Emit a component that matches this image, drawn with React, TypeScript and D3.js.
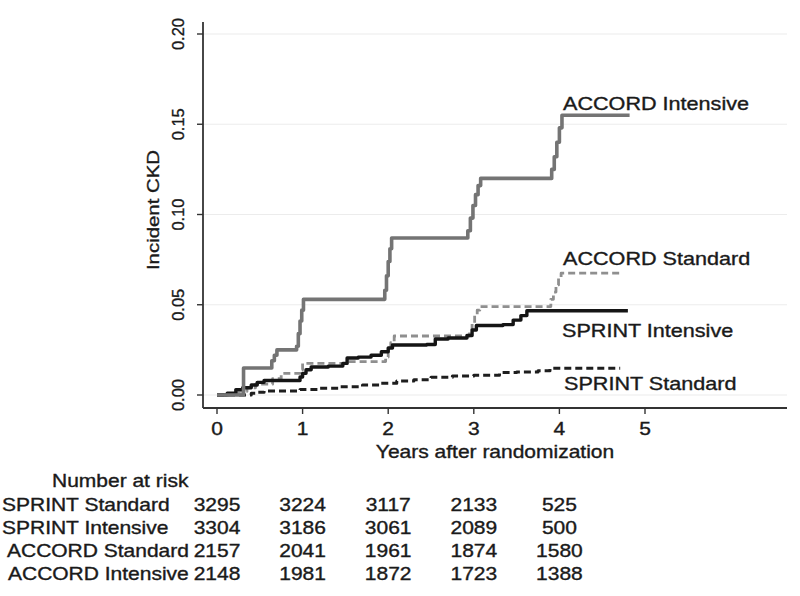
import React from "react";
import * as d3 from "d3";

// ---- data ----
const yTicks = [0, 0.05, 0.1, 0.15, 0.2];
const xTicks = [0, 1, 2, 3, 4, 5];
const riskYears = [0, 1, 2, 3, 4];
const groups = ["SPRINT Standard", "SPRINT Intensive", "ACCORD Standard", "ACCORD Intensive"];
const riskSprintStd = [3295, 3224, 3117, 2133, 525];
const riskSprintInt = [3304, 3186, 3061, 2089, 500];
const riskAccordStd = [2157, 2041, 1961, 1874, 1580];
const riskAccordInt = [2148, 1981, 1872, 1723, 1388];

const accordIntT = [0, 0.31, 0.64, 0.67, 0.7, 0.93, 0.95, 0.97, 0.99, 1.01, 1.96, 1.98, 2.0, 2.02, 2.04, 2.93, 2.96, 2.99, 3.02, 3.05, 3.08, 3.91, 3.94, 3.97, 4.0, 4.03, 4.82];
const accordIntV = [0, 0.015, 0.019, 0.022, 0.025, 0.027, 0.034, 0.041, 0.047, 0.053, 0.058, 0.066, 0.074, 0.081, 0.087, 0.091, 0.098, 0.105, 0.111, 0.116, 0.12, 0.125, 0.132, 0.14, 0.148, 0.155, 0.155];

const accordStdT = [0, 0.25, 0.35, 0.45, 0.65, 0.75, 0.97, 1.0, 1.5, 1.97, 2.0, 2.03, 2.07, 2.95, 2.98, 3.01, 3.04, 3.07, 3.9, 3.93, 3.96, 3.99, 4.02, 4.73];
const accordStdV = [0, 0.002, 0.004, 0.006, 0.009, 0.012, 0.014, 0.0175, 0.0185, 0.021, 0.025, 0.029, 0.0327, 0.036, 0.04, 0.044, 0.047, 0.049, 0.053, 0.057, 0.061, 0.065, 0.0675, 0.0675];

const sprintIntT = [0, 0.12, 0.22, 0.3, 0.4, 0.47, 0.55, 0.97, 1.0, 1.04, 1.1, 1.3, 1.47, 1.52, 1.65, 1.8, 1.92, 2.0, 2.05, 2.45, 2.55, 2.7, 2.92, 2.98, 3.03, 3.34, 3.46, 3.55, 3.62, 4.8];
const sprintIntV = [0, 0.001, 0.003, 0.004, 0.0055, 0.007, 0.008, 0.01, 0.012, 0.014, 0.0155, 0.016, 0.0175, 0.0205, 0.021, 0.022, 0.024, 0.026, 0.0277, 0.028, 0.031, 0.0316, 0.033, 0.036, 0.0385, 0.039, 0.0415, 0.044, 0.0467, 0.0467];

const sprintStdT = [0, 0.4, 0.47, 0.55, 0.97, 1.2, 1.44, 1.7, 1.9, 2.1, 2.3, 2.5, 2.75, 3.0, 3.3, 3.5, 3.75, 3.89, 4.71];
const sprintStdV = [0, 0.001, 0.0015, 0.0022, 0.0031, 0.0038, 0.0046, 0.0055, 0.0065, 0.0077, 0.0085, 0.0098, 0.0105, 0.011, 0.0124, 0.0128, 0.0135, 0.0148, 0.0148];

const FONT = "'Liberation Sans', Arial, Helvetica, sans-serif";
const INK = "#1a1a1a";

function SText({ x, y, children, size = 17.5, anchor = "start", sx = 1.2, rotate = 0 }: any) {
  return (
    <text
      transform={`translate(${x},${y}) rotate(${rotate}) scale(${sx},1)`}
      fontSize={size}
      textAnchor={anchor}
      fontFamily={FONT}
      fill={INK}
      stroke={INK}
      strokeWidth={0.35}
    >
      {children}
    </text>
  );
}

export default function App() {
  const x = d3.scaleLinear().domain([0, 5]).range([217, 645]);
  const y = d3.scaleLinear().domain([0, 0.2]).range([395, 34]);
  const axisLeft = 203;
  const axisBottom = 408;
  const axisRight = 787;
  const axisTop = 22;

  const mk = (t: number[], v: number[]) =>
    d3
      .line<number>()
      .x((_, i) => x(t[i]))
      .y((d) => y(d))
      .curve(d3.curveStepAfter)(v) || "";

  const series = [
    { t: sprintStdT, v: sprintStdV, color: "#1e1e1e", dash: "7,4", w: 3 },
    { t: accordStdT, v: accordStdV, color: "#8f8f8f", dash: "7,4", w: 2.8 },
    { t: sprintIntT, v: sprintIntV, color: "#151515", dash: null, w: 3.4 },
    { t: accordIntT, v: accordIntV, color: "#747474", dash: null, w: 3.6 },
  ];

  const risks = [riskSprintStd, riskSprintInt, riskAccordStd, riskAccordInt];
  const labelX = [2, 2, 7, 8];

  return (
    <svg
      width={800}
      height={596}
      style={{ position: "absolute", left: 0, top: 0, background: "#fff" }}
    >
      <rect x={0} y={0} width={800} height={596} fill="#fff" />
      {/* grid */}
      {yTicks.map((t) => (
        <line key={"g" + t} x1={axisLeft} x2={axisRight} y1={y(t)} y2={y(t)} stroke="#ececec" strokeWidth={1.2} />
      ))}
      {/* axes */}
      <line x1={axisLeft} x2={axisLeft} y1={axisTop} y2={axisBottom} stroke="#333" strokeWidth={1.8} />
      <line x1={axisLeft} x2={axisRight} y1={axisBottom} y2={axisBottom} stroke="#333" strokeWidth={1.8} />
      {yTicks.map((t) => (
        <g key={"yt" + t}>
          <line x1={axisLeft - 6} x2={axisLeft} y1={y(t)} y2={y(t)} stroke="#333" strokeWidth={1.4} />
          <text
            transform={`translate(184,${y(t)}) rotate(-90)`}
            fontSize={16.5}
            textAnchor="middle"
            fontFamily={FONT}
            fill={INK}
            stroke={INK}
            strokeWidth={0.35}
          >
            {d3.format(".2f")(t)}
          </text>
        </g>
      ))}
      {xTicks.map((t) => (
        <g key={"xt" + t}>
          <line x1={x(t)} x2={x(t)} y1={axisBottom} y2={axisBottom + 6} stroke="#333" strokeWidth={1.4} />
          <SText x={x(t)} y={435} anchor="middle">{String(t)}</SText>
        </g>
      ))}
      <SText x={495} y={458} anchor="middle">Years after randomization</SText>
      <SText x={159} y={210} anchor="middle" rotate={-90} size={17}>Incident CKD</SText>

      {/* curves */}
      {series.map((s, i) => (
        <path
          key={"s" + i}
          d={mk(s.t, s.v)}
          fill="none"
          stroke={s.color}
          strokeWidth={s.w}
          strokeDasharray={s.dash || undefined}
          strokeLinejoin="round"
        />
      ))}

      {/* curve labels */}
      <SText x={563} y={110} size={18}>ACCORD Intensive</SText>
      <SText x={563} y={265} size={18}>ACCORD Standard</SText>
      <SText x={562} y={337} size={18}>SPRINT Intensive</SText>
      <SText x={564} y={390} size={18}>SPRINT Standard</SText>

      {/* risk table */}
      <SText x={52} y={487}>Number at risk</SText>
      {groups.map((g, gi) => (
        <g key={g}>
          <SText x={labelX[gi]} y={511 + gi * 23}>{g}</SText>
          {riskYears.map((yr, j) => (
            <SText key={yr} x={x(yr)} y={511 + gi * 23} anchor="middle">
              {String(risks[gi][j])}
            </SText>
          ))}
        </g>
      ))}
    </svg>
  );
}
